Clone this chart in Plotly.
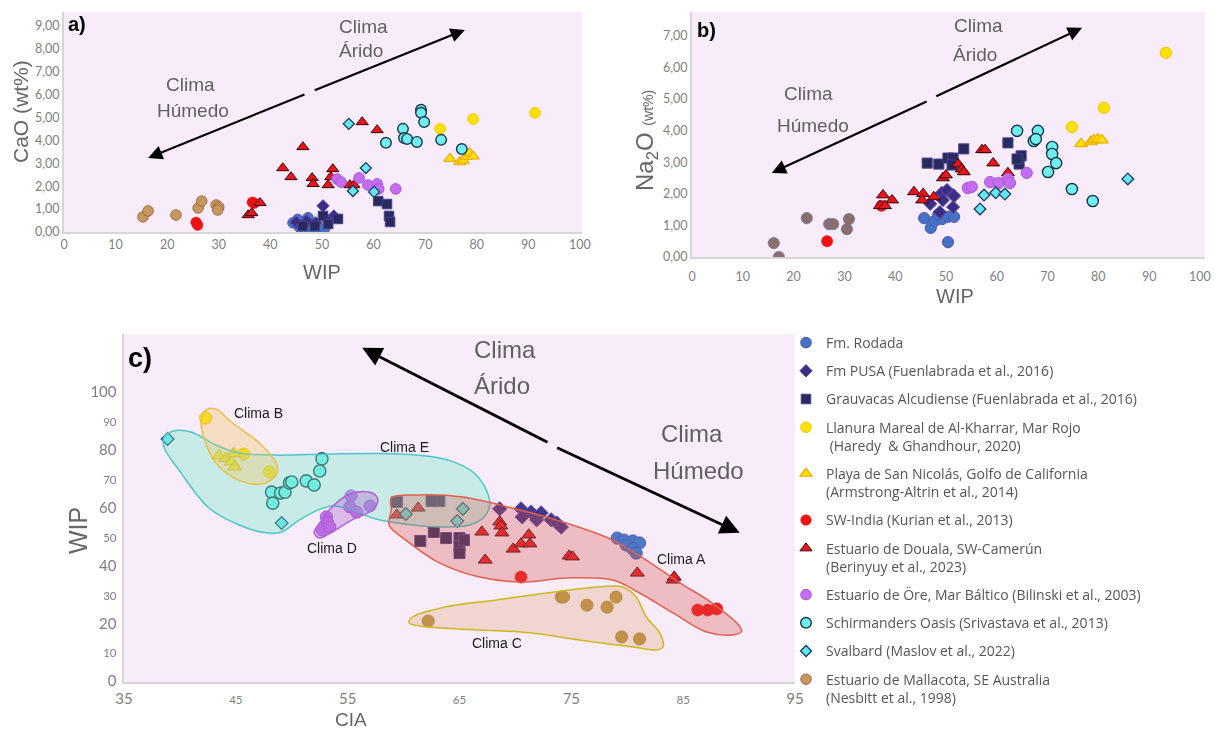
import plotly.graph_objects as go

W, H = 1217, 729

# ---------------- a) WIP vs CaO (wt%) ----------------
rodada_a_wip = [44.4, 45.3, 47.3, 45.7, 49.0, 48.0, 50.5, 47.6, 46.5]
rodada_a_cao = [0.40, 0.55, 0.62, 0.20, 0.02, 0.32, 0.15, 0.08, 0.45]
pusa_a_wip = [50.2, 52.3, 45.0, 47.0, 48.8, 51.0, 46.2]
pusa_a_cao = [1.14, 0.70, 0.42, 0.48, 0.40, 0.52, 0.30]
grauv_a_wip = [46.3, 48.6, 50.2, 51.2, 53.1, 60.9, 62.6, 63.0, 63.2]
grauv_a_cao = [0.26, 0.26, 0.70, 0.35, 0.57, 1.35, 1.22, 0.70, 0.44]
llanura_a_wip = [72.9, 79.3, 91.3]
llanura_a_cao = [4.50, 4.93, 5.20]
playa_a_wip = [74.8, 76.7, 77.4, 78.0, 78.6, 79.3]
playa_a_cao = [3.20, 3.05, 3.12, 3.28, 3.45, 3.30]
india_a_wip = [25.6, 25.9, 36.5, 36.9]
india_a_cao = [0.42, 0.30, 1.30, 1.26]
douala_a_wip = [35.7, 36.4, 38.0, 42.4, 44.0, 46.3, 48.1, 48.3, 51.2, 52.1, 51.7, 55.4, 56.2, 57.8, 60.7]
douala_a_cao = [0.74, 0.83, 1.27, 2.79, 2.40, 3.71, 2.36, 2.10, 2.05, 2.75, 2.40, 2.05, 2.05, 4.80, 4.45]
ore_a_wip = [52.9, 53.7, 57.2, 58.9, 60.7, 61.0, 64.3]
ore_a_cao = [2.31, 2.18, 2.36, 2.05, 2.10, 1.88, 1.88]
schir_a_wip = [62.4, 65.7, 65.9, 66.5, 68.4, 69.2, 69.2, 69.8, 73.1, 77.1]
schir_a_cao = [3.89, 4.50, 4.10, 4.06, 3.93, 5.33, 5.20, 4.80, 4.02, 3.62]
sval_a_wip = [55.2, 58.5, 56.0, 60.1]
sval_a_cao = [4.72, 2.79, 1.79, 1.75]
malla_a_wip = [15.3, 16.3, 21.7, 26.0, 26.7, 29.5, 30.0, 29.8]
malla_a_cao = [0.66, 0.92, 0.74, 1.05, 1.35, 1.18, 1.09, 0.96]

# ---------------- b) WIP vs Na2O (wt%) ----------------
rodada_b_wip = [45.7, 47.0, 47.8, 49.2, 50.4, 51.6, 50.4, 48.5]
rodada_b_na2o = [1.23, 0.92, 1.14, 1.20, 1.27, 1.27, 0.47, 1.35]
pusa_b_wip = [49.2, 50.2, 51.4, 46.9, 48.8, 51.4, 49.4, 51.6]
pusa_b_na2o = [2.03, 2.12, 1.96, 1.68, 1.42, 1.58, 1.80, 1.93]
grauv_b_wip = [46.3, 48.6, 50.4, 51.4, 53.5, 51.2, 62.2, 64.8, 64.4, 64.0]
grauv_b_na2o = [2.97, 2.94, 3.13, 3.13, 3.42, 2.91, 3.61, 3.20, 2.94, 3.10]
llanura_b_wip = [74.8, 81.1, 93.3]
llanura_b_na2o = [4.11, 4.72, 6.46]
playa_b_wip = [76.6, 78.5, 79.1, 79.9, 80.7]
playa_b_na2o = [3.58, 3.64, 3.70, 3.73, 3.70]
india_b_wip = [26.6, 37.3]
india_b_na2o = [0.50, 1.62]
douala_b_wip = [37.6, 39.4, 37.0, 38.0, 43.7, 45.5, 45.3, 47.6, 49.4, 50.0, 52.4, 53.1, 53.5, 57.1, 57.7, 59.3, 62.2]
douala_b_na2o = [1.96, 1.80, 1.62, 1.62, 2.06, 2.00, 1.80, 1.90, 2.50, 2.59, 2.94, 2.78, 2.69, 3.39, 3.39, 2.97, 2.66]
ore_b_wip = [54.3, 55.1, 58.7, 60.4, 62.2, 62.6, 65.9]
ore_b_na2o = [2.18, 2.22, 2.37, 2.34, 2.47, 2.34, 2.66]
schir_b_wip = [64.0, 68.1, 67.3, 67.7, 70.9, 70.9, 71.7, 70.1, 74.8, 78.9]
schir_b_na2o = [3.99, 3.99, 3.67, 3.73, 3.48, 3.26, 2.97, 2.69, 2.15, 1.77]
sval_b_wip = [57.5, 59.8, 61.6, 56.7, 85.8]
sval_b_na2o = [1.96, 2.03, 1.99, 1.52, 2.47]
malla_b_wip = [16.1, 17.1, 22.6, 27.0, 27.8, 30.5, 30.9]
malla_b_na2o = [0.44, 0.00, 1.23, 1.04, 1.04, 0.88, 1.20]

# ---------------- c) CIA vs WIP ----------------
rodada_c_cia = [79.1, 79.7, 80.5, 81.1, 79.9, 80.5, 80.8]
rodada_c_wip = [49.8, 49.1, 48.8, 48.1, 47.4, 46.0, 44.6]
pusa_c_cia = [68.6, 70.5, 70.6, 71.4, 71.9, 72.3, 73.2, 73.7, 74.1]
pusa_c_wip = [59.9, 59.9, 57.1, 58.8, 56.1, 58.5, 56.1, 55.0, 53.6]
grauv_c_cia = [59.4, 63.2, 62.5, 61.5, 62.7, 63.8, 65.0, 65.0, 65.0, 65.4]
grauv_c_wip = [62.3, 62.6, 62.6, 48.8, 51.9, 49.8, 49.8, 47.1, 44.6, 49.1]
llanura_c_cia = [42.3, 45.7, 48.0]
llanura_c_wip = [91.3, 78.9, 72.7]
playa_c_cia = [43.5, 44.1, 44.6, 44.9, 44.8]
playa_c_wip = [78.2, 77.3, 76.2, 74.4, 79.0]
india_c_cia = [70.5, 86.3, 87.2, 88.0]
india_c_wip = [36.3, 24.9, 24.9, 25.3]
douala_c_cia = [59.4, 61.3, 67.0, 67.3, 68.6, 68.7, 68.8, 69.8, 70.5, 71.2, 71.3, 74.8, 75.1, 80.9, 84.1, 84.2]
douala_c_wip = [57.8, 60.2, 51.9, 42.2, 55.4, 54.0, 51.6, 46.0, 47.8, 50.9, 47.8, 43.6, 43.3, 37.7, 35.3, 36.3]
ore_c_cia = [53.1, 53.2, 52.7, 53.4, 55.3, 55.2, 55.8, 57.0]
ore_c_wip = [57.1, 55.0, 52.6, 53.6, 64.4, 60.6, 58.8, 60.9]
schir_c_cia = [48.2, 48.3, 49.0, 49.4, 49.8, 50.0, 51.3, 52.0, 52.5, 52.7]
schir_c_wip = [65.7, 61.9, 65.4, 65.7, 68.9, 69.2, 69.6, 68.2, 73.0, 77.2]
sval_c_cia = [38.9, 49.1, 60.2, 65.3, 64.8]
sval_c_wip = [84.1, 55.0, 58.1, 59.9, 55.7]
malla_c_cia = [62.2, 74.1, 74.3, 76.4, 78.2, 79.0, 79.5, 81.1]
malla_c_wip = [21.1, 29.4, 29.4, 26.6, 25.9, 29.4, 15.6, 14.9]

# Climate-group envelopes in panel c (CIA, WIP)
clima_a_cia = [58.9, 61.4, 65.3, 70.4, 74.2, 78.7, 81.7, 84.7, 87.6, 90.1, 90.2, 89.4, 87.1, 84.1,
               81.1, 78.7, 74.6, 70.6, 66.8, 63.2, 60.2, 58.7, 58.9]
clima_a_wip = [63.7, 64.7, 64.0, 59.5, 55.4, 49.1, 42.2, 34.3, 27.3, 19.0, 17.3, 16.3, 17.3, 23.9,
               30.8, 35.3, 36.0, 34.6, 36.3, 41.2, 49.1, 54.3, 59.5]
clima_b_cia = [42.3, 43.2, 44.7, 47.1, 48.6, 48.7, 47.7, 46.5, 44.7, 43.2, 42.2, 41.9]
clima_b_wip = [94.1, 94.5, 89.6, 82.7, 75.8, 72.3, 68.9, 68.5, 70.9, 75.8, 83.7, 90.7]
clima_c_cia = [60.5, 60.8, 63.8, 68.3, 72.8, 76.4, 79.6, 80.8, 81.7, 82.9, 83.2, 82.6, 80.5, 75.7,
               71.3, 66.8, 62.3]
clima_c_wip = [20.4, 22.5, 26.0, 28.4, 30.8, 32.5, 32.9, 29.4, 22.5, 17.0, 12.1, 11.1, 12.1, 14.5,
               17.0, 18.0, 19.0]
clima_d_cia = [52.5, 53.6, 55.4, 57.2, 57.7, 57.2, 55.4, 53.6, 52.5, 52.0]
clima_d_wip = [55.0, 60.6, 65.4, 65.4, 63.0, 59.5, 56.1, 51.9, 49.8, 51.6]
clima_e_cia = [38.6, 39.5, 41.0, 43.2, 45.3, 48.6, 53.6, 59.6, 62.6, 64.7, 66.3, 67.4, 67.7, 67.2,
               65.9, 63.8, 60.8, 57.8, 53.6, 50.7, 49.1, 47.7, 45.3, 42.6, 39.9, 38.6]
clima_e_wip = [84.8, 86.9, 86.5, 82.0, 79.2, 78.5, 78.9, 78.9, 77.9, 75.8, 72.3, 66.4, 61.2, 57.1,
               54.3, 53.6, 54.3, 56.1, 60.9, 56.1, 51.9, 51.6, 54.3, 60.2, 73.4, 81.0]

# Tick values
a_xticks = [0, 10, 20, 30, 40, 50, 60, 70, 80, 90, 100]
a_yticks = [0, 1, 2, 3, 4, 5, 6, 7, 8, 9]
b_yticks = [0, 1, 2, 3, 4, 5, 6, 7]
c_xticks = [35, 45, 55, 65, 75, 85, 95]
c_yticks = [0, 10, 20, 30, 40, 50, 60, 70, 80, 90, 100]

# Series labels
labels = {
    "rodada": "Fm. Rodada",
    "pusa": "Fm PUSA (Fuenlabrada et al., 2016)",
    "grauv": "Grauvacas Alcudiense (Fuenlabrada et al., 2016)",
    "llanura": "Llanura Mareal de Al-Kharrar, Mar Rojo<br> (Haredy  & Ghandhour, 2020)",
    "playa": "Playa de San Nicolás, Golfo de California<br>(Armstrong-Altrin et al., 2014)",
    "india": "SW-India (Kurian et al., 2013)",
    "douala": "Estuario de Douala, SW-Camerún<br>(Berinyuy et al., 2023)",
    "ore": "Estuario de Öre, Mar Báltico (Bilinski et al., 2003)",
    "schir": "Schirmanders Oasis (Srivastava et al., 2013)",
    "sval": "Svalbard (Maslov et al., 2022)",
    "malla": "Estuario de Mallacota, SE Australia<br>(Nesbitt et al., 1998)",
}
order = ["rodada", "pusa", "grauv", "llanura", "playa", "india", "douala", "ore", "schir", "sval", "malla"]

panel_a = {
    "rodada": (rodada_a_wip, rodada_a_cao), "pusa": (pusa_a_wip, pusa_a_cao),
    "grauv": (grauv_a_wip, grauv_a_cao), "llanura": (llanura_a_wip, llanura_a_cao),
    "playa": (playa_a_wip, playa_a_cao), "india": (india_a_wip, india_a_cao),
    "douala": (douala_a_wip, douala_a_cao), "ore": (ore_a_wip, ore_a_cao),
    "schir": (schir_a_wip, schir_a_cao), "sval": (sval_a_wip, sval_a_cao),
    "malla": (malla_a_wip, malla_a_cao),
}
panel_b = {
    "rodada": (rodada_b_wip, rodada_b_na2o), "pusa": (pusa_b_wip, pusa_b_na2o),
    "grauv": (grauv_b_wip, grauv_b_na2o), "llanura": (llanura_b_wip, llanura_b_na2o),
    "playa": (playa_b_wip, playa_b_na2o), "india": (india_b_wip, india_b_na2o),
    "douala": (douala_b_wip, douala_b_na2o), "ore": (ore_b_wip, ore_b_na2o),
    "schir": (schir_b_wip, schir_b_na2o), "sval": (sval_b_wip, sval_b_na2o),
    "malla": (malla_b_wip, malla_b_na2o),
}
panel_c = {
    "rodada": (rodada_c_cia, rodada_c_wip), "pusa": (pusa_c_cia, pusa_c_wip),
    "grauv": (grauv_c_cia, grauv_c_wip), "llanura": (llanura_c_cia, llanura_c_wip),
    "playa": (playa_c_cia, playa_c_wip), "india": (india_c_cia, india_c_wip),
    "douala": (douala_c_cia, douala_c_wip), "ore": (ore_c_cia, ore_c_wip),
    "schir": (schir_c_cia, schir_c_wip), "sval": (sval_c_cia, sval_c_wip),
    "malla": (malla_c_cia, malla_c_wip),
}

# Marker styles: symbol, fill, outline, outline width, base size
style = {
    "rodada": ("circle", "#4472c4", "#4f58b0", 1.0, 10),
    "pusa": ("diamond", "#3b2d83", "#5b4aa8", 1.0, 9),
    "grauv": ("square", "#262a5c", "#4a3f8f", 1.0, 9),
    "llanura": ("circle", "#ffe100", "#f2c500", 1.0, 10),
    "playa": ("triangle-up", "#ffe100", "#f0aa00", 1.2, 10),
    "india": ("circle", "#ee1111", "#e01010", 0.5, 10),
    "douala": ("triangle-up", "#e8141e", "#3a0505", 1.0, 10),
    "ore": ("circle", "#c46df0", "#a855d8", 1.0, 10),
    "schir": ("circle", "#6ff0f0", "#1b3548", 1.4, 10),
    "sval": ("diamond", "#66e6f0", "#1c3c62", 1.3, 8),
    "malla": ("circle", "#c8965f", "#8a6232", 0.8, 10),
}
malla_b_style = ("#8e6c68", "#5d79b5")
malla_c_style = ("#b5862f", "#9a6f20")

fig = go.Figure()


def add_panel(data, xa, ya, scale, legend, overrides, opacity=1.0):
    for key in order:
        xs, ys = data[key]
        sym, fill, edge, lw, size = style[key]
        if key in overrides:
            fill, edge = overrides[key]
        fig.add_trace(go.Scatter(
            x=xs, y=ys, mode="markers", xaxis=xa, yaxis=ya,
            name=labels[key], legendgroup=key, showlegend=legend,
            opacity=opacity,
            marker=dict(symbol=sym, color=fill, size=size * scale,
                        line=dict(color=edge, width=lw)),
            hoverinfo="skip",
        ))


add_panel(panel_a, "x", "y", 1.06, True, {})
add_panel(panel_b, "x2", "y2", 1.12, False, {"malla": malla_b_style})
add_panel(panel_c, "x3", "y3", 1.22, False, {"malla": malla_c_style}, opacity=0.95)

# Translucent climate envelopes over the panel c markers
envelopes = [
    (clima_e_cia, clima_e_wip, "rgba(110,235,195,0.34)", "#4cc6c9"),
    (clima_a_cia, clima_a_wip, "rgba(215,80,70,0.30)", "#e0604f"),
    (clima_c_cia, clima_c_wip, "rgba(225,160,115,0.30)", "#cdb81c"),
    (clima_b_cia, clima_b_wip, "rgba(240,195,90,0.34)", "#e8bf45"),
    (clima_d_cia, clima_d_wip, "rgba(165,90,200,0.34)", "#b25fd2"),
]
for xs, ys, fc, lc in envelopes:
    fig.add_trace(go.Scatter(
        x=xs + xs[:1], y=ys + ys[:1], xaxis="x3", yaxis="y3", mode="lines",
        fill="toself", fillcolor=fc, line=dict(color=lc, width=1.5, shape="spline", smoothing=1.0),
        showlegend=False, hoverinfo="skip",
    ))


def py(p):
    return 1 - p / H


def pxx(p):
    return p / W


tick_font = dict(family="Lato, Open Sans, sans-serif", size=12.5, color="#7f7f7f")
axis_common = dict(showgrid=False, zeroline=False, showline=True, linecolor="#d6d6d6",
                   linewidth=2, ticks="", tickfont=tick_font, fixedrange=True, automargin=False)


def mixed(vals, big_set):
    out = []
    for v in vals:
        size = 15 if v in big_set else 11.5
        out.append("<span style='font-size:%spx'>%d</span>" % (size, v))
    return out


fig.update_layout(
    template="none",
    width=W, height=H, autosize=False,
    margin=dict(l=0, r=0, t=0, b=0, pad=0, autoexpand=False),
    paper_bgcolor="white", plot_bgcolor="#f8ecfa",
    separators=", ",
    font=dict(family="Lato, Open Sans, sans-serif", color="#555555"),
    xaxis=dict(axis_common, domain=[pxx(64), pxx(582)], range=[0, 100.4], anchor="y",
               tickvals=a_xticks),
    yaxis=dict(axis_common, domain=[py(232), py(12)], range=[0, 9.6], anchor="x",
               tickvals=a_yticks, tickformat=".2f"),
    xaxis2=dict(axis_common, domain=[pxx(692), pxx(1205)], range=[0, 101], anchor="y2",
                tickvals=a_xticks, ticklabelstandoff=7),
    yaxis2=dict(axis_common, domain=[py(257), py(12)], range=[0, 7.75], anchor="x2",
                tickvals=b_yticks, tickformat=".2f"),
    xaxis3=dict(axis_common, domain=[pxx(124), pxx(795)], range=[35, 95], anchor="y3",
                tickvals=c_xticks, ticktext=mixed(c_xticks, {35, 55, 75, 95}),
                ticklabelstandoff=5),
    yaxis3=dict(axis_common, domain=[py(682), py(334)], range=[0, 120.4], anchor="x3",
                tickvals=c_yticks, ticktext=mixed(c_yticks, {0, 20, 40, 60, 80, 100}),
                ticklabelstandoff=3),
    legend=dict(x=pxx(786), y=py(327), xanchor="left", yanchor="top",
                font=dict(family="Open Sans, Lato, sans-serif", size=14, color="#555555"),
                tracegroupgap=7, valign="top", itemwidth=30, bgcolor="rgba(0,0,0,0)",
                borderwidth=0),
    showlegend=True,
)

ann = []


def text(x, y, s, size, color="#606060", family="Liberation Sans, Arial, sans-serif",
         xanchor="center", angle=0, bold=False):
    if bold:
        s = "<b>%s</b>" % s
    ann.append(dict(x=pxx(x), y=py(y), xref="paper", yref="paper", text=s, showarrow=False,
                    xanchor=xanchor, yanchor="middle", textangle=angle,
                    font=dict(size=size, color=color, family=family)))


def arrow(xa, ya, head, tail, width, size):
    ann.append(dict(x=head[0], y=head[1], ax=tail[0], ay=tail[1], xref=xa, yref=ya,
                    axref=xa, ayref=ya, text="", showarrow=True, arrowhead=2,
                    arrowsize=size, arrowwidth=width, arrowcolor="black"))


sans = "Liberation Sans, Arial, sans-serif"

# Panel letters
text(77, 24, "a)", 20, "black", sans, bold=True)
text(707, 30, "b)", 20, "black", sans, bold=True)
text(140, 358, "c)", 27, "black", sans, bold=True)

# Axis titles
text(322, 272, "WIP", 20, "#666666")
text(20, 112, "CaO (wt%)", 21, "#666666", angle=-90)
text(955, 296, "WIP", 20, "#666666")
text(646, 141, "Na<sub>2</sub>O <span style='font-size:14px'>(wt%)</span>", 24, "#666666", angle=-90)
text(351, 719, "CIA", 19, "#666666")
text(78, 531, "WIP", 25, "#666666", angle=-90)

# Climate trend arrows (two halves with a small gap)
arrow("x", "y", (16.3, 3.23), (46.9, 6.03), 2.2, 1.3)
arrow("x", "y", (77.7, 8.82), (48.3, 6.16), 2.2, 1.3)
arrow("x2", "y2", (15.7, 2.66), (46.5, 4.94), 2.2, 1.3)
arrow("x2", "y2", (76.8, 7.25), (47.8, 5.06), 2.2, 1.3)
arrow("x3", "y3", (56.3, 115.6), (73.0, 82.7), 2.8, 1.4)
arrow("x3", "y3", (90.06, 51.6), (73.6, 81.3), 2.8, 1.4)

# Climate captions
text(190, 84, "Clima", 19)
text(193, 110, "Húmedo", 19)
text(337, 27, "Clima", 19, xanchor="left")
text(337, 50, "Árido", 19, xanchor="left")
text(808, 94, "Clima", 19)
text(813, 125, "Húmedo", 19)
text(952, 25, "Clima", 19, xanchor="left")
text(951, 55, "Árido", 19, xanchor="left")
text(472, 349, "Clima", 24, xanchor="left")
text(472, 385, "Árido", 24, xanchor="left")
text(692, 433, "Clima", 24)
text(698, 471, "Húmedo", 24)

# Envelope names
text(258, 413, "Clima B", 14, "#1a1a1a", sans)
text(404, 447, "Clima E", 14, "#1a1a1a", sans)
text(332, 548, "Clima D", 14, "#1a1a1a", sans)
text(681, 559, "Clima A", 14, "#1a1a1a", sans)
text(497, 643, "Clima C", 14, "#1a1a1a", sans)

fig.update_layout(annotations=ann)
fig.write_html("out.html")
